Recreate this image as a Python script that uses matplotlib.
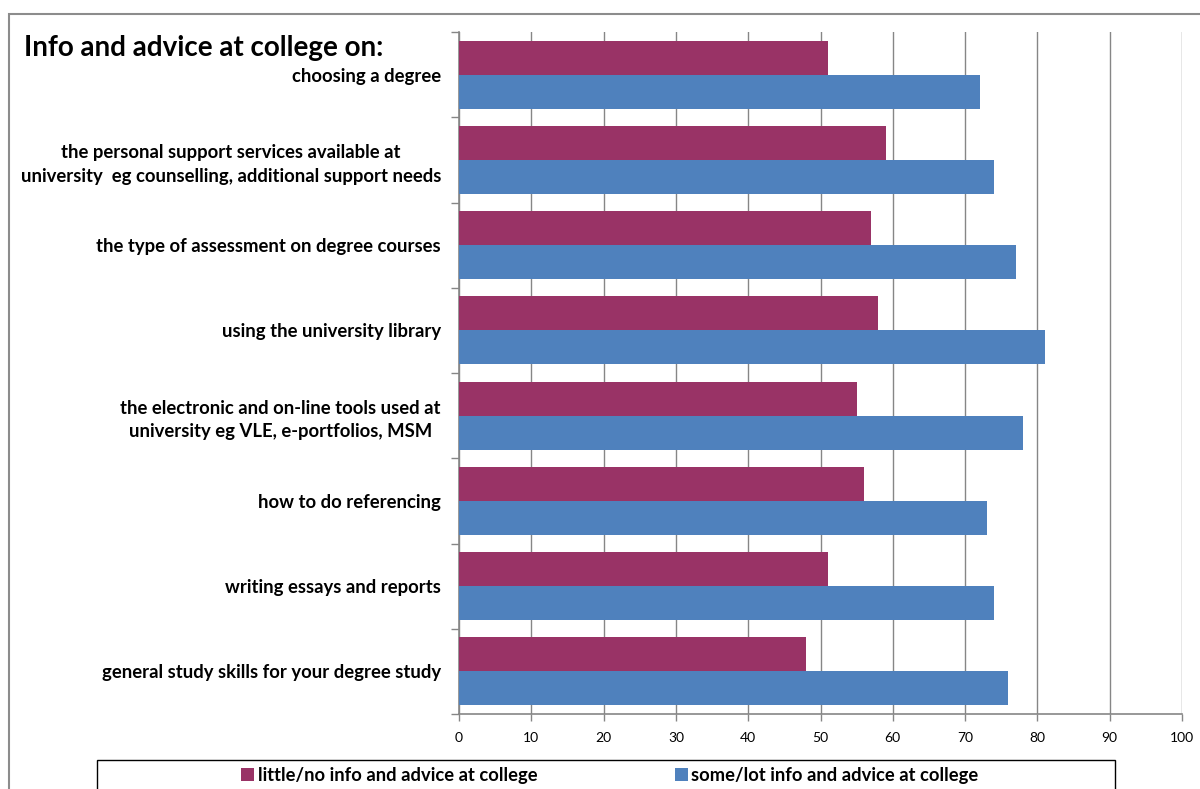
import matplotlib
matplotlib.use("Agg")
from matplotlib import pyplot as plt
from matplotlib import patches as patch
import numpy as np

# survey topics, top to bottom
topics = [
    "choosing a degree",
    "the personal support services available at\nuniversity  eg counselling, additional support needs",
    "the type of assessment on degree courses",
    "using the university library",
    "the electronic and on-line tools used at\nuniversity eg VLE, e-portfolios, MSM",
    "how to do referencing",
    "writing essays and reports",
    "general study skills for your degree study",
]
little_info = [51, 59, 57, 58, 55, 56, 51, 48]
some_info = [72, 74, 77, 81, 78, 73, 74, 76]
series_names = ["little/no info and advice at college",
                "some/lot info and advice at college"]
x_ticks = list(range(0, 101, 10))

col_little = "#993366"
col_some = "#4f81bd"
col_grid = "#868686"

plt.rcParams["font.family"] = ["Lato", "DejaVu Sans"]

fig = plt.figure(figsize=(12, 7.89), dpi=100)
W, H = 1200.0, 789.0

# outer chart frame, running off the right and bottom edges
frame = patch.Rectangle((9 / W, -0.1), 1.2, 1 - 14 / H + 0.1,
                        transform=fig.transFigure, fill=False,
                        edgecolor="#8c8c8c", linewidth=1.5)
fig.add_artist(frame)

ax = fig.add_axes([459 / W, 1 - 714 / H, (1182 - 459) / W, (714 - 32) / H])

y = np.arange(len(topics))
h = 0.4
ax.barh(y - h / 2, little_info, height=h, color=col_little,
        label=series_names[0], zorder=3)
ax.barh(y + h / 2, some_info, height=h, color=col_some,
        label=series_names[1], zorder=3)

ax.set_xlim(0, 100)
ax.set_ylim(len(topics) - 0.5, -0.5)
ax.set_xticks(x_ticks)
ax.set_xticklabels([str(t) for t in x_ticks], fontsize=10)
ax.xaxis.grid(True, color=col_grid, linewidth=1, zorder=0)
ax.tick_params(axis="x", direction="out", length=5, color=col_grid,
               width=1, pad=8)

ax.set_yticks(y)
ax.set_yticklabels(topics, fontsize=13.3, fontweight="bold",
                   multialignment="center", linespacing=1.45)
ax.set_yticks(np.arange(-0.5, len(topics)), minor=True)
ax.tick_params(axis="y", which="major", length=0, pad=13)
ax.tick_params(axis="y", which="minor", length=6, color=col_grid, width=1)

for side in ["top", "right"]:
    ax.spines[side].set_visible(False)
for side in ["left", "bottom"]:
    ax.spines[side].set_color(col_grid)
    ax.spines[side].set_linewidth(1.2)

fig.text(24 / W, 1 - 48 / H, "Info and advice at college on:",
         fontsize=20, fontweight="bold", va="center", ha="left")

# legend box, cut off at the bottom
lbox = patch.Rectangle((97 / W, -0.1), (1115 - 97) / W, 0.1 + 1 - 760 / H,
                       transform=fig.transFigure, fill=False,
                       edgecolor="black", linewidth=1)
fig.add_artist(lbox)
leg = fig.legend(loc="center", bbox_to_anchor=(610 / W, 1 - 775 / H),
                 ncol=2, frameon=False, prop={"weight": "bold", "size": 13.2},
                 handlelength=0.7, handleheight=0.7, handletextpad=0.2,
                 columnspacing=7.5)

fig.savefig("out.png", dpi=100)
